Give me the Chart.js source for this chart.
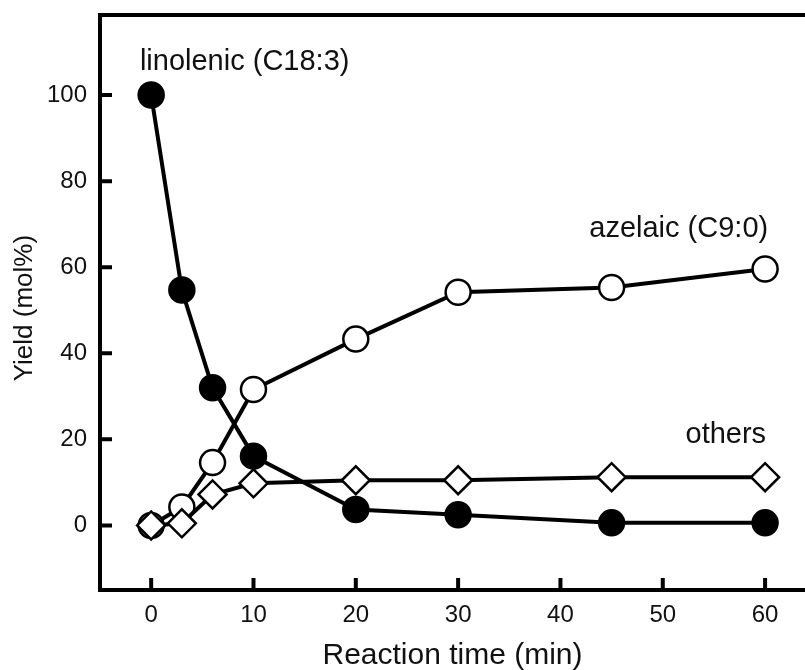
<!DOCTYPE html>
<html>
<head>
<meta charset="utf-8">
<script src="https://cdn.jsdelivr.net/npm/chart.js@4.4.1/dist/chart.umd.min.js"></script>
<style>
	html, body { margin: 0; padding: 0; background: #fff; overflow: hidden; }
	#wrap { width: 805px; height: 670px; }
</style>
</head>
<body>
<div id="wrap"><canvas id="yield-chart" width="805" height="670"></canvas></div>
<script>
// values (reaction time in min, yield in mol%)
const times = [0, 3, 6, 10, 20, 30, 45, 60];
const linolenic = [100, 54.7, 32.0, 16.1, 3.7, 2.5, 0.6, 0.6];
const azelaic = [0, 4.3, 14.6, 31.6, 43.3, 54.2, 55.3, 59.6];
const others = [0, 0.5, 7.2, 9.8, 10.5, 10.5, 11.2, 11.2];

const xTicks = [0, 10, 20, 30, 40, 50, 60];
const yTicks = [0, 20, 40, 60, 80, 100];

const font_family = '"Liberation Sans", Arial, sans-serif';

function to_points(values){
	return times.map((t, i) => ({ x: t, y: values[i] }));
}

// top border, inward ticks, y title and the series labels
const frame_plugin = {
	id: 'frame',
	beforeDatasetsDraw(chart){
		const ctx = chart.ctx;
		const area = chart.chartArea;
		const xs = chart.scales.x;
		const ys = chart.scales.y;
		ctx.save();
		ctx.strokeStyle = '#000';
		ctx.lineWidth = 4;
		ctx.beginPath();
		ctx.moveTo(area.left - 2, area.top);
		ctx.lineTo(area.right, area.top);
		xTicks.forEach(function(v){
			const px = xs.getPixelForValue(v);
			ctx.moveTo(px, area.bottom);
			ctx.lineTo(px, area.bottom - 12);
		});
		yTicks.forEach(function(v){
			const py = ys.getPixelForValue(v);
			ctx.moveTo(area.left, py);
			ctx.lineTo(area.left + 12, py);
		});
		ctx.stroke();
		ctx.restore();
	},
	afterDraw(chart){
		const ctx = chart.ctx;
		const xs = chart.scales.x;
		const ys = chart.scales.y;
		ctx.save();
		ctx.fillStyle = '#111';
		ctx.font = '29px ' + font_family;
		ctx.textBaseline = 'alphabetic';

		ctx.textAlign = 'left';
		ctx.fillText('linolenic (C18:3)', xs.getPixelForValue(-1.1), ys.getPixelForValue(105.8));

		ctx.textAlign = 'right';
		ctx.fillText('azelaic (C9:0)', xs.getPixelForValue(60.3), ys.getPixelForValue(67));
		ctx.fillText('others', xs.getPixelForValue(60.1), ys.getPixelForValue(19.1));

		// y axis title, a little below the middle of the axis
		ctx.font = '26px ' + font_family;
		ctx.textAlign = 'center';
		ctx.textBaseline = 'middle';
		ctx.translate(25, ys.getPixelForValue(50.5));
		ctx.rotate(-Math.PI / 2);
		ctx.fillText('Yield (mol%)', 0, 0);
		ctx.restore();
	}
};

const line_style = {
	borderColor: '#000',
	borderWidth: 4,
	tension: 0,
	pointBorderColor: '#000',
	pointBorderWidth: 2.5,
	clip: false
};

const config = {
	type: 'line',
	data: {
		datasets: [
			Object.assign({
				label: 'others',
				data: to_points(others),
				pointStyle: 'rectRot',
				pointRadius: 14,
				pointBackgroundColor: '#fff'
			}, line_style),
			Object.assign({
				label: 'azelaic (C9:0)',
				data: to_points(azelaic),
				pointStyle: 'circle',
				pointRadius: 12.5,
				pointBackgroundColor: '#fff'
			}, line_style),
			Object.assign({
				label: 'linolenic (C18:3)',
				data: to_points(linolenic),
				pointStyle: 'circle',
				pointRadius: 12.5,
				pointBackgroundColor: '#000'
			}, line_style)
		]
	},
	options: {
		responsive: false,
		animation: false,
		devicePixelRatio: 1,
		layout: {
			autoPadding: false,
			padding: { top: 15, right: 0, bottom: 0, left: 0 }
		},
		plugins: {
			legend: { display: false },
			tooltip: { enabled: false }
		},
		scales: {
			x: {
				type: 'linear',
				min: -5,
				max: 63.9,
				afterBuildTicks: function(scale){
					scale.ticks = xTicks.map(v => ({ value: v }));
				},
				afterFit: function(scale){
					scale.height = 80;
					scale.paddingLeft = 0;
					scale.paddingRight = 0;
				},
				grid: { display: true, drawOnChartArea: false, drawTicks: false },
				border: { display: true, color: '#000', width: 4 },
				ticks: {
					color: '#111',
					padding: 11,
					maxRotation: 0,
					font: { family: font_family, size: 24 }
				},
				title: {
					display: true,
					text: 'Reaction time (min)',
					color: '#111',
					padding: { top: 0, bottom: 0 },
					font: { family: font_family, size: 30, lineHeight: 0.95 }
				}
			},
			y: {
				type: 'linear',
				min: -15,
				max: 118.6,
				afterBuildTicks: function(scale){
					scale.ticks = yTicks.map(v => ({ value: v }));
				},
				afterFit: function(scale){
					scale.width = 100;
					scale.paddingTop = 0;
					scale.paddingBottom = 0;
				},
				grid: { display: true, drawOnChartArea: false, drawTicks: false },
				border: { display: true, color: '#000', width: 4 },
				ticks: {
					color: '#111',
					padding: 13,
					font: { family: font_family, size: 24 }
				},
				title: { display: false }
			}
		}
	},
	plugins: [frame_plugin]
};

const chart = new Chart(document.getElementById('yield-chart').getContext('2d'), config);
</script>
</body>
</html>
